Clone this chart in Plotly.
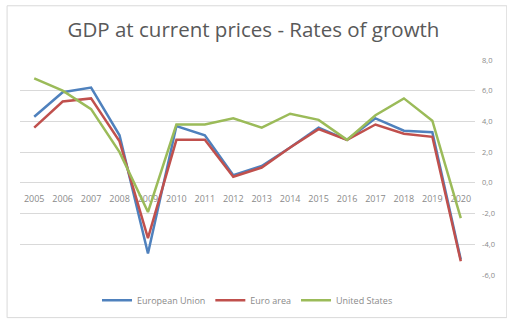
import plotly.graph_objects as go

years = [str(y) for y in range(2005, 2021)]
eu = [4.3, 5.9, 6.2, 3.1, -4.6, 3.7, 3.1, 0.5, 1.1, 2.3, 3.6, 2.8, 4.2, 3.4, 3.3, -5.0]
ea = [3.6, 5.3, 5.5, 2.7, -3.6, 2.8, 2.8, 0.4, 1.0, 2.3, 3.5, 2.8, 3.8, 3.2, 3.0, -5.1]
us = [6.8, 6.0, 4.8, 2.0, -1.9, 3.8, 3.8, 4.2, 3.6, 4.5, 4.1, 2.8, 4.4, 5.5, 4.05, -2.3]
series_names = ["European Union", "Euro area", "United States"]
colors = ["#4F81BD", "#C0504D", "#9BBB59"]
ytick_vals = [-6, -4, -2, 0, 2, 4, 6, 8]
ytick_text = ["-6,0", "-4,0", "-2,0", "0,0", "2,0", "4,0", "6,0", "8,0"]

fig = go.Figure()
for name, vals, col in zip(series_names, [eu, ea, us], colors):
    fig.add_trace(go.Scatter(x=years, y=vals, mode="lines", name=name,
                             line=dict(color=col, width=2.5)))

ymin, ymax = -6, 8
fig.update_layout(
    width=507, height=327,
    margin=dict(l=20, r=29, t=60, b=45),
    paper_bgcolor="white", plot_bgcolor="white",
    title=dict(text="GDP at current prices - Rates of growth", x=0.5, xanchor="center",
               y=1 - 30 / 327, yanchor="middle",
               font=dict(family="Open Sans", size=20.5, color="#595959")),
    font=dict(family="Open Sans", color="#7f7f7f"),
    xaxis=dict(type="category", range=[-0.5, 15.5], showgrid=False,
               anchor="free", position=(0 - ymin) / (ymax - ymin),
               showline=False, ticks="", tickfont=dict(size=9, color="#8a8a8a"),
               ticklabelstandoff=9,
               layer="below traces", zeroline=False),
    yaxis=dict(range=[ymin, ymax], side="right", tickvals=ytick_vals, ticktext=ytick_text,
               showgrid=True, gridcolor="#d9d9d9", gridwidth=1, zeroline=False,
               showline=False, ticks="", tickfont=dict(size=7.5, color="#8a8a8a"),
               ticklabelstandoff=6),
    legend=dict(orientation="h", x=0.5, xanchor="center", y=-0.117, yanchor="middle",
                font=dict(size=9, color="#8a8a8a"), itemwidth=30,
                bgcolor="rgba(0,0,0,0)"),
    showlegend=True,
)
fig.add_shape(type="rect", xref="paper", yref="paper",
              x0=(7 - 20) / 458, x1=(510 - 20) / 458,
              y0=(282 - 326) / 222, y1=(282 - 4) / 222,
              line=dict(color="#d9d9d9", width=1), layer="below")
fig.write_html("out.html")
